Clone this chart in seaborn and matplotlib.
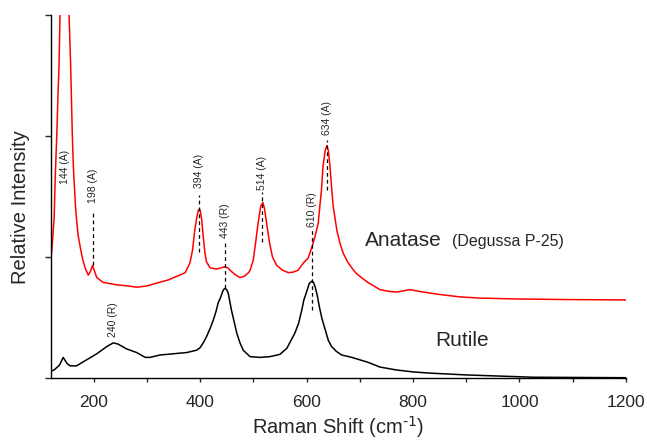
import matplotlib
matplotlib.use("Agg")
import matplotlib.pyplot as plt
import seaborn as sns
import pandas as pd

# anatase (Degussa P-25) spectrum
anatase_x = [120, 121, 123, 126, 128, 131, 133, 135, 137, 141, 145, 149, 154, 157, 160, 162, 164, 166, 168,
             171, 175, 179, 184, 190, 194, 198, 202, 206, 218, 243, 266, 281, 300, 319, 340, 362, 372,
             381, 386, 390, 394, 397, 400, 403, 406, 409, 412, 419, 431, 440, 446, 452, 459, 467, 475,
             483, 491, 494, 500, 505, 509, 514, 518, 521, 525, 530, 536, 544, 555, 566, 575, 584, 594,
             603, 610, 616, 622, 625, 628, 631, 635, 638, 641, 644, 647, 650, 657, 663, 669, 677, 685,
             692, 700, 715, 738, 755, 769, 782, 794, 806, 819, 850, 888, 925, 994, 1088, 1200]
anatase_y = [1.00, 1.03, 1.14, 1.33, 1.66, 2.02, 2.32, 2.57, 3.00, 3.80, 4.50, 4.20, 3.00, 2.57, 2.02, 1.75, 1.58, 1.42, 1.31,
             1.18, 1.08, 0.99, 0.91, 0.85, 0.88, 0.93, 0.88, 0.83, 0.79, 0.77, 0.76, 0.75, 0.76, 0.785, 0.81, 0.85, 0.87,
             0.95, 1.06, 1.22, 1.33, 1.39, 1.39, 1.31, 1.17, 1.04, 0.96, 0.91, 0.90, 0.91, 0.92, 0.91, 0.88, 0.85, 0.83,
             0.84, 0.87, 0.89, 0.975, 1.14, 1.28, 1.42, 1.45, 1.40, 1.28, 1.13, 1.00, 0.93, 0.89, 0.87, 0.875, 0.89, 0.95,
             0.99, 1.08, 1.17, 1.28, 1.42, 1.55, 1.75, 1.88, 1.92, 1.88, 1.75, 1.58, 1.42, 1.22, 1.11, 1.03, 0.96, 0.91,
             0.87, 0.84, 0.79, 0.73, 0.715, 0.71, 0.72, 0.73, 0.72, 0.71, 0.69, 0.67, 0.66, 0.653, 0.648, 0.645]

# rutile spectrum
rutile_x = [118, 127, 136, 143, 150, 156, 168, 187, 206, 225, 237, 246, 262, 281, 297, 306,
            325, 350, 375, 394, 400, 406, 412, 419, 425, 430, 434, 439, 442, 445, 447, 450, 453, 456,
            459, 464, 469, 475, 481, 494, 512, 531, 550, 563, 578, 585, 591, 595, 600, 605, 610, 613,
            616, 620, 624, 629, 635, 641, 647, 656, 666, 685, 700, 715, 738, 769, 800, 832, 900, 1026, 1200]
rutile_y = [0.05, 0.07, 0.107, 0.17, 0.12, 0.10, 0.10, 0.15, 0.20, 0.26, 0.29, 0.28, 0.24, 0.21, 0.17, 0.17,
            0.19, 0.20, 0.21, 0.23, 0.25, 0.29, 0.34, 0.41, 0.48, 0.55, 0.62, 0.67, 0.71, 0.735, 0.74, 0.73, 0.70, 0.63,
            0.56, 0.465, 0.37, 0.29, 0.23, 0.176, 0.17, 0.176, 0.195, 0.245, 0.37, 0.45, 0.56, 0.645, 0.71, 0.78, 0.80, 0.79,
            0.755, 0.685, 0.59, 0.49, 0.40, 0.31, 0.26, 0.22, 0.19, 0.17, 0.15, 0.13, 0.09, 0.066, 0.05, 0.04, 0.025, 0.006, 0.002]

# peak annotations: label, x position, text base y, dashed line (y0, y1) or None
peak_labels = ["144 (A)", "198 (A)", "394 (A)", "443 (R)", "514 (A)", "610 (R)", "634 (A)", "240 (R)"]
peak_x = [146, 198, 398, 446, 517, 610, 638, 236]
peak_text_y = [1.60, 1.45, 1.57, 1.16, 1.55, 1.25, 2.01, 0.34]
peak_line = [None, (0.93, 1.39), (1.04, 1.51), (0.74, 1.14), (1.12, 1.54), (0.56, 1.24), (1.55, 1.97), None]

anatase = pd.DataFrame({"shift": anatase_x, "intensity": anatase_y})
rutile = pd.DataFrame({"shift": rutile_x, "intensity": rutile_y})

sns.set_style("ticks")
plt.rcParams["font.family"] = ["Liberation Sans", "DejaVu Sans"]

fig = plt.figure(figsize=(6.47, 4.40), dpi=100)
ax = fig.add_axes([0.0788, 0.141, 0.8887, 0.825])

sns.lineplot(data=anatase, x="shift", y="intensity", color="#ff0000", lw=1.1, ax=ax)
sns.lineplot(data=rutile, x="shift", y="intensity", color="black", lw=1.1, ax=ax)

for lab, px, ty, ln in zip(peak_labels, peak_x, peak_text_y, peak_line):
    if ln is not None:
        ax.plot([px, px], [ln[0], ln[1]], color="black", lw=0.9, ls=(0, (3, 2.5)))
    ax.text(px, ty, lab, rotation=90, ha="center", va="bottom", fontsize=7.5)

ax.text(709, 1.14, "Anatase", fontsize=15, va="center")
ax.text(873, 1.13, "(Degussa P-25)", fontsize=11.5, va="center")
ax.text(841, 0.306, "Rutile", fontsize=15, va="center")

ax.set_xlim(120, 1200)
ax.set_ylim(0, 3)
ax.set_xticks([200, 400, 600, 800, 1000, 1200])
ax.set_xticks(range(200, 1201, 100), minor=True)
ax.set_yticks([0, 1, 2, 3])
ax.set_yticklabels([])
ax.tick_params(axis="x", which="both", length=3, width=1, labelsize=12.5, direction="out", pad=9)
ax.tick_params(axis="y", length=4.5, width=1, direction="out")
ax.set_xlabel(r"Raman Shift (cm$^{\text{-1}}$)", fontsize=14.5, labelpad=3)
ax.set_ylabel("Relative Intensity", fontsize=14.5)
ax.yaxis.set_label_coords(-0.037, 0.471)
sns.despine(ax=ax)
for s in ["left", "bottom"]:
    ax.spines[s].set_linewidth(1.0)
    ax.spines[s].set_color("black")

fig.savefig("out.png", dpi=100)
